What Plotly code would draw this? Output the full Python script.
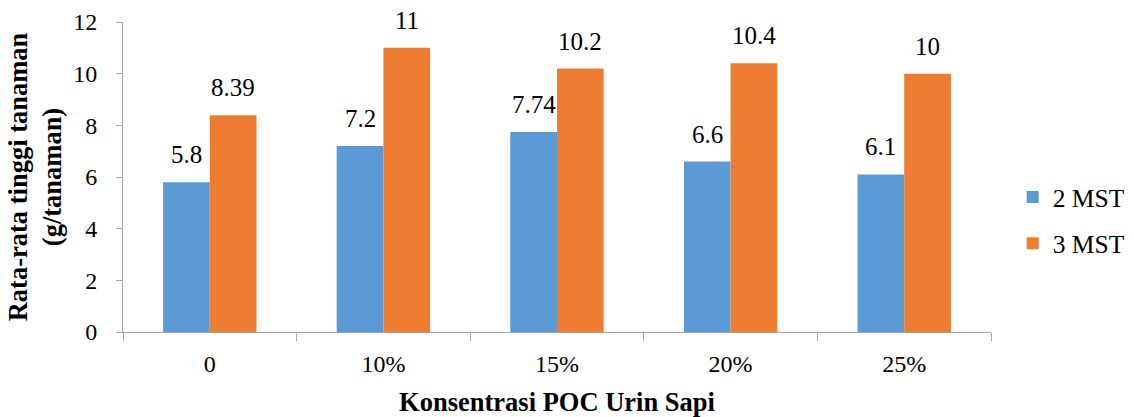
import plotly.graph_objects as go

categories = ["0", "10%", "15%", "20%", "25%"]
mst2 = [5.8, 7.2, 7.74, 6.6, 6.1]
mst3 = [8.39, 11, 10.2, 10.4, 10]
label2 = ["5.8", "7.2", "7.74", "6.6", "6.1"]
label3 = ["8.39", "11", "10.2", "10.4", "10"]
yticks = [0, 2, 4, 6, 8, 10, 12]

FONT = "Liberation Serif"
BLUE = "#5B9BD5"
ORANGE = "#ED7D31"
AXIS = "#A6A6A6"

fig = go.Figure()
fig.add_trace(go.Bar(x=categories, y=mst2, name="2 MST", marker=dict(color=BLUE, line=dict(width=0)),
                     legendgroup="a"))
fig.add_trace(go.Bar(x=categories, y=mst3, name="3 MST", marker=dict(color=ORANGE, line=dict(width=0)),
                     legendgroup="b"))

annotations = []
for c, v, t in zip(categories, mst2, label2):
    annotations.append(dict(x=c, y=v, xref="x", yref="y", text=t, showarrow=False,
                            xshift=-23.4, yshift=12, yanchor="bottom",
                            font=dict(family=FONT, size=25, color="black")))
for c, v, t in zip(categories, mst3, label3):
    annotations.append(dict(x=c, y=v, xref="x", yref="y", text=t, showarrow=False,
                            xshift=23.4, yshift=12, yanchor="bottom",
                            font=dict(family=FONT, size=25, color="black")))

fig.update_layout(
    width=1134, height=417,
    margin=dict(l=123, r=143, t=22, b=85, autoexpand=False),
    paper_bgcolor="white", plot_bgcolor="white",
    barmode="group", bargap=0.462, bargroupgap=0,
    font=dict(family=FONT, size=24, color="black"),
    annotations=annotations,
    legend=dict(x=1.025, xanchor="left", y=0.36, yanchor="middle",
                font=dict(family=FONT, size=25.5, color="black"),
                tracegroupgap=10, bgcolor="rgba(0,0,0,0)"),
    xaxis=dict(type="category", tickson="boundaries", ticks="outside", ticklen=8,
               tickcolor=AXIS, showline=True, linecolor=AXIS, linewidth=1,
               showgrid=False, zeroline=False, automargin=False, ticklabelstandoff=10,
               tickfont=dict(family=FONT, size=24, color="black"),
               title=dict(text="<b>Konsentrasi POC Urin Sapi</b>", standoff=20,
                          font=dict(family=FONT, size=26.5, color="black"))),
    yaxis=dict(range=[0, 12], tickvals=yticks, ticks="outside", ticklen=6,
               tickcolor=AXIS, showline=True, linecolor=AXIS, linewidth=1,
               showgrid=False, zeroline=False, automargin=False, ticklabelstandoff=14,
               tickfont=dict(family=FONT, size=24, color="black"),
               title=dict(text="<b>Rata-rata tinggi tanaman<br>(g/tanaman)</b>", standoff=3,
                          font=dict(family=FONT, size=26.5, color="black"))),
)

fig.write_html("out.html", config={"displayModeBar": False},
               post_script="document.body.style.margin='0';")
